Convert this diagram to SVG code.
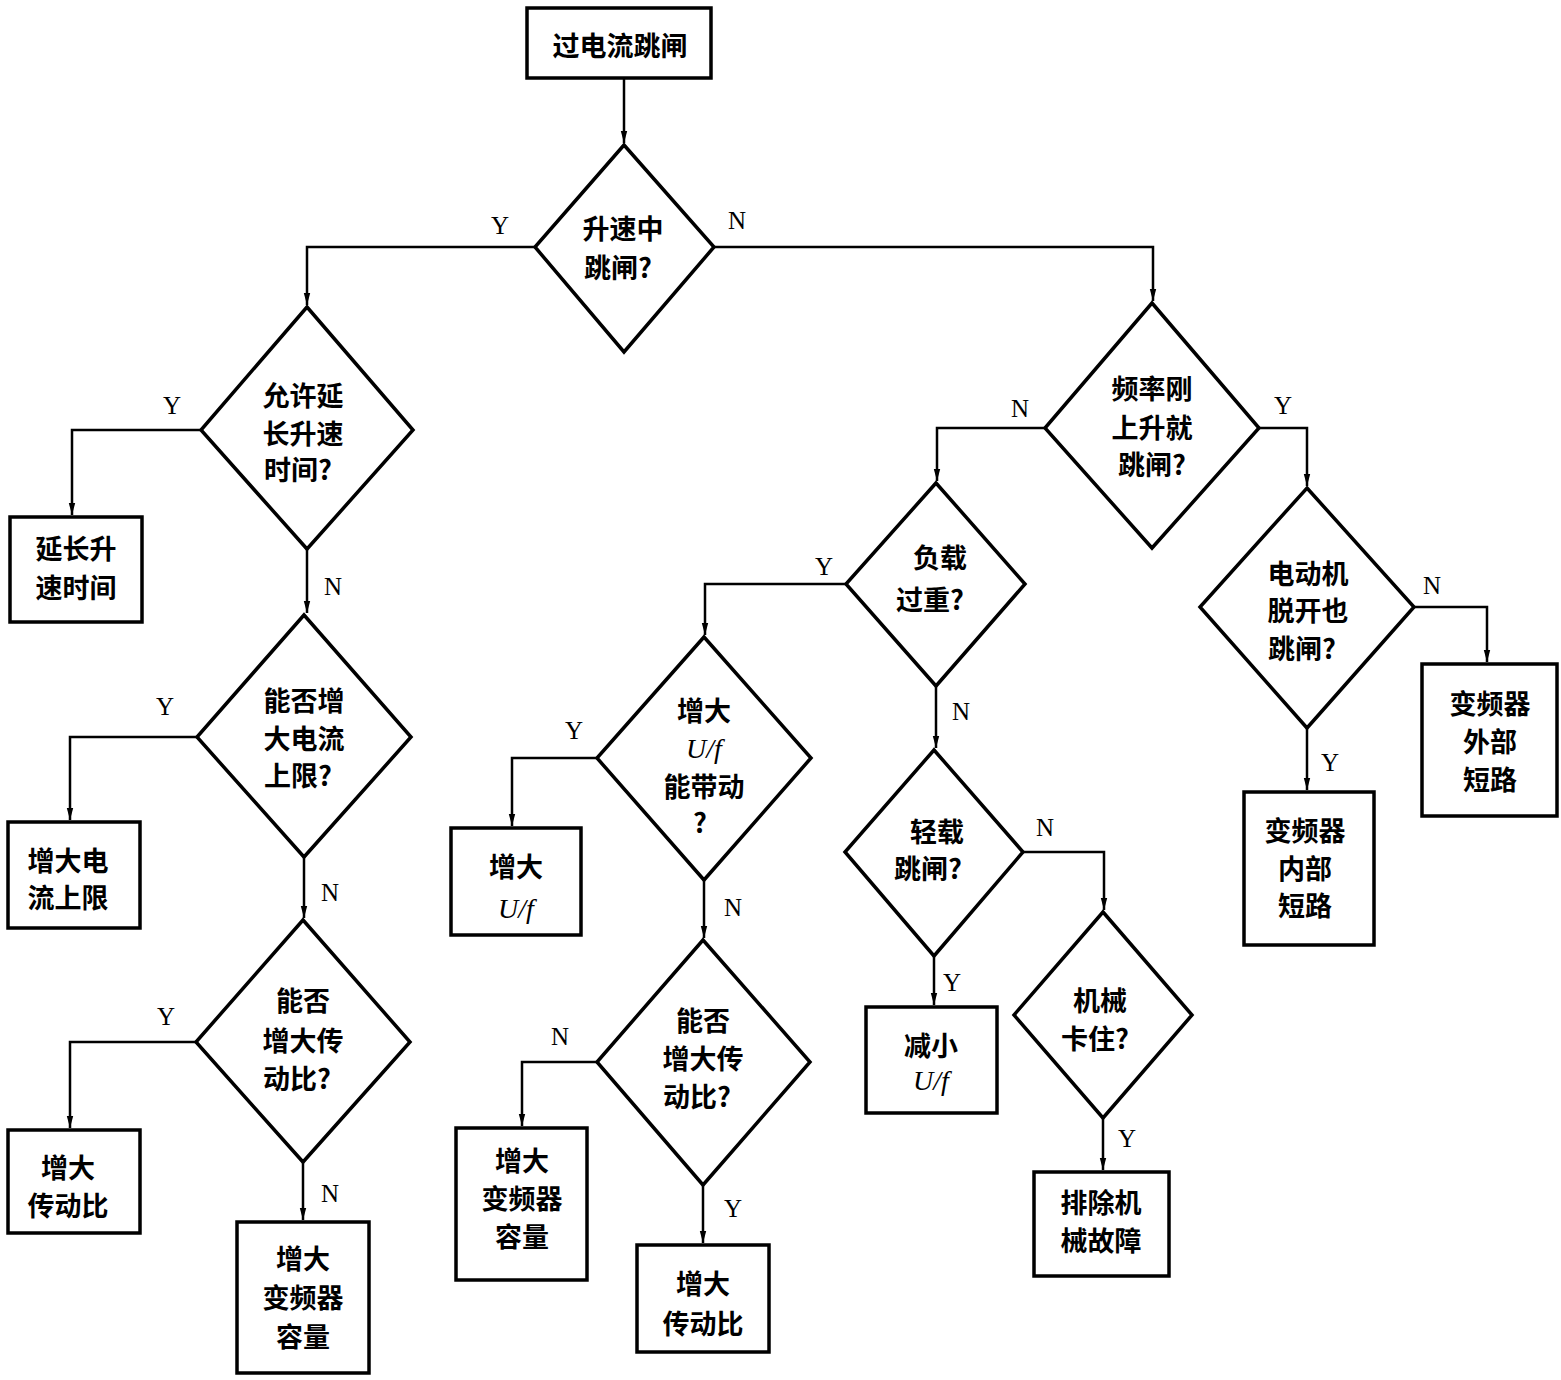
<svg xmlns="http://www.w3.org/2000/svg" width="1561" height="1380" viewBox="0 0 1561 1380">
<style>
.box{fill:#fff;stroke:#000;stroke-width:3.5}
.dia{fill:#fff;stroke:#000;stroke-width:3.5;stroke-linejoin:miter}
.con{fill:none;stroke:#000;stroke-width:2.5}
.t{font-family:"Noto Sans CJK SC","Liberation Sans",sans-serif;font-weight:bold;font-size:27px;text-anchor:middle;dominant-baseline:central;fill:#000}
.uf{font-family:"Liberation Serif",serif;font-style:italic;font-size:28px;text-anchor:middle;dominant-baseline:central;fill:#000}
.yn{font-family:"Liberation Serif",serif;font-size:25px;text-anchor:middle;dominant-baseline:central;fill:#000}
</style>
<defs>
<marker id="ar" viewBox="0 0 12 8" refX="12" refY="4" markerWidth="12" markerHeight="8" markerUnits="userSpaceOnUse" orient="auto">
<path d="M0,0.8 L12,4 L0,7.2 Z" fill="#000"/>
</marker>
</defs>
<rect width="1561" height="1380" fill="#fff"/>

<g id="connectors">
<path class="con" d="M624,78 V143" marker-end="url(#ar)"/>
<path class="con" d="M535,247 H307 V305" marker-end="url(#ar)"/>
<path class="con" d="M714,247 H1153 V301" marker-end="url(#ar)"/>
<path class="con" d="M201,430 H72 V515" marker-end="url(#ar)"/>
<path class="con" d="M307,549 V613" marker-end="url(#ar)"/>
<path class="con" d="M197,737 H70 V820" marker-end="url(#ar)"/>
<path class="con" d="M304,857 V918" marker-end="url(#ar)"/>
<path class="con" d="M196,1042 H70 V1128" marker-end="url(#ar)"/>
<path class="con" d="M303,1162 V1220" marker-end="url(#ar)"/>
<path class="con" d="M1045,428 H937 V481" marker-end="url(#ar)"/>
<path class="con" d="M1259,428 H1307 V486" marker-end="url(#ar)"/>
<path class="con" d="M846,584 H705 V635" marker-end="url(#ar)"/>
<path class="con" d="M936,686 V748" marker-end="url(#ar)"/>
<path class="con" d="M597,758 H512 V826" marker-end="url(#ar)"/>
<path class="con" d="M704,880 V938" marker-end="url(#ar)"/>
<path class="con" d="M597,1062 H522 V1126" marker-end="url(#ar)"/>
<path class="con" d="M703,1185 V1243" marker-end="url(#ar)"/>
<path class="con" d="M1023,852 H1104 V910" marker-end="url(#ar)"/>
<path class="con" d="M934,956 V1005" marker-end="url(#ar)"/>
<path class="con" d="M1103,1118 V1170" marker-end="url(#ar)"/>
<path class="con" d="M1414,607 H1487 V662" marker-end="url(#ar)"/>
<path class="con" d="M1307,728 V790" marker-end="url(#ar)"/>
<text class="yn" x="500" y="225">Y</text>
<text class="yn" x="737" y="220">N</text>
<text class="yn" x="172" y="405">Y</text>
<text class="yn" x="333" y="586">N</text>
<text class="yn" x="165" y="706">Y</text>
<text class="yn" x="330" y="892">N</text>
<text class="yn" x="166" y="1016">Y</text>
<text class="yn" x="330" y="1193">N</text>
<text class="yn" x="1020" y="408">N</text>
<text class="yn" x="1283" y="405">Y</text>
<text class="yn" x="824" y="566">Y</text>
<text class="yn" x="961" y="711">N</text>
<text class="yn" x="574" y="730">Y</text>
<text class="yn" x="733" y="907">N</text>
<text class="yn" x="560" y="1036">N</text>
<text class="yn" x="733" y="1208">Y</text>
<text class="yn" x="1045" y="827">N</text>
<text class="yn" x="952" y="982">Y</text>
<text class="yn" x="1127" y="1138">Y</text>
<text class="yn" x="1432" y="585">N</text>
<text class="yn" x="1330" y="762">Y</text>
</g>

<g id="n1"><rect class="box" x="527" y="8" width="184" height="70"/><text class="t" x="620" y="44">过电流跳闸</text></g>

<g id="n2"><polygon class="dia" points="624,145 714,247 624,352 535,247"/>
<text class="t" x="623" y="227">升速中</text><text class="t" x="618" y="266">跳闸?</text></g>

<g id="n3"><polygon class="dia" points="307,307 413,430 307,549 201,430"/>
<text class="t" x="303" y="394">允许延</text><text class="t" x="303" y="432">长升速</text><text class="t" x="298" y="468">时间?</text></g>

<g id="n4"><rect class="box" x="10" y="517" width="132" height="105"/>
<text class="t" x="76" y="547">延长升</text><text class="t" x="76" y="586">速时间</text></g>

<g id="n5"><polygon class="dia" points="304,615 411,737 304,857 197,737"/>
<text class="t" x="304" y="699">能否增</text><text class="t" x="304" y="737">大电流</text><text class="t" x="298" y="774">上限?</text></g>

<g id="n6"><rect class="box" x="8" y="822" width="132" height="106"/>
<text class="t" x="68" y="859">增大电</text><text class="t" x="68" y="896">流上限</text></g>

<g id="n7"><polygon class="dia" points="303,920 410,1042 303,1162 196,1042"/>
<text class="t" x="303" y="999">能否</text><text class="t" x="303" y="1039">增大传</text><text class="t" x="297" y="1077">动比?</text></g>

<g id="n8"><rect class="box" x="8" y="1130" width="132" height="103"/>
<text class="t" x="68" y="1166">增大</text><text class="t" x="68" y="1204">传动比</text></g>

<g id="n9"><rect class="box" x="237" y="1222" width="132" height="151"/>
<text class="t" x="303" y="1257">增大</text><text class="t" x="303" y="1296">变频器</text><text class="t" x="303" y="1335">容量</text></g>

<g id="n10"><polygon class="dia" points="1152,303 1259,428 1152,548 1045,428"/>
<text class="t" x="1152" y="387">频率刚</text><text class="t" x="1152" y="426">上升就</text><text class="t" x="1152" y="463">跳闸?</text></g>

<g id="n11"><polygon class="dia" points="936,483 1025,584 936,686 846,584"/>
<text class="t" x="940" y="556">负载</text><text class="t" x="930" y="598">过重?</text></g>

<g id="n12"><polygon class="dia" points="704,637 811,758 704,880 597,758"/>
<text class="t" x="704" y="709">增大</text><text class="uf" x="704" y="748">U/f</text><text class="t" x="704" y="785">能带动</text><text class="t" x="700" y="821">?</text></g>

<g id="n13"><rect class="box" x="451" y="828" width="130" height="107"/>
<text class="t" x="516" y="865">增大</text><text class="uf" x="516" y="908">U/f</text></g>

<g id="n14"><polygon class="dia" points="703,940 810,1062 703,1185 597,1062"/>
<text class="t" x="703" y="1019">能否</text><text class="t" x="703" y="1057">增大传</text><text class="t" x="697" y="1095">动比?</text></g>

<g id="n15"><rect class="box" x="456" y="1128" width="131" height="152"/>
<text class="t" x="522" y="1159">增大</text><text class="t" x="522" y="1197">变频器</text><text class="t" x="522" y="1235">容量</text></g>

<g id="n16"><rect class="box" x="637" y="1245" width="132" height="107"/>
<text class="t" x="703" y="1282">增大</text><text class="t" x="703" y="1322">传动比</text></g>

<g id="n17"><polygon class="dia" points="934,750 1023,852 934,956 845,852"/>
<text class="t" x="937" y="830">轻载</text><text class="t" x="928" y="867">跳闸?</text></g>

<g id="n18"><rect class="box" x="866" y="1007" width="131" height="106"/>
<text class="t" x="931" y="1044">减小</text><text class="uf" x="931" y="1080">U/f</text></g>

<g id="n19"><polygon class="dia" points="1103,912 1192,1015 1103,1118 1014,1015"/>
<text class="t" x="1100" y="999">机械</text><text class="t" x="1095" y="1037">卡住?</text></g>

<g id="n20"><rect class="box" x="1034" y="1172" width="135" height="104"/>
<text class="t" x="1101" y="1201">排除机</text><text class="t" x="1101" y="1239">械故障</text></g>

<g id="n21"><polygon class="dia" points="1307,488 1414,607 1307,728 1200,607"/>
<text class="t" x="1308" y="572">电动机</text><text class="t" x="1308" y="609">脱开也</text><text class="t" x="1302" y="647">跳闸?</text></g>

<g id="n22"><rect class="box" x="1422" y="664" width="135" height="152"/>
<text class="t" x="1490" y="702">变频器</text><text class="t" x="1490" y="740">外部</text><text class="t" x="1490" y="778">短路</text></g>

<g id="n23"><rect class="box" x="1244" y="792" width="130" height="153"/>
<text class="t" x="1305" y="829">变频器</text><text class="t" x="1305" y="867">内部</text><text class="t" x="1305" y="904">短路</text></g>
</svg>
